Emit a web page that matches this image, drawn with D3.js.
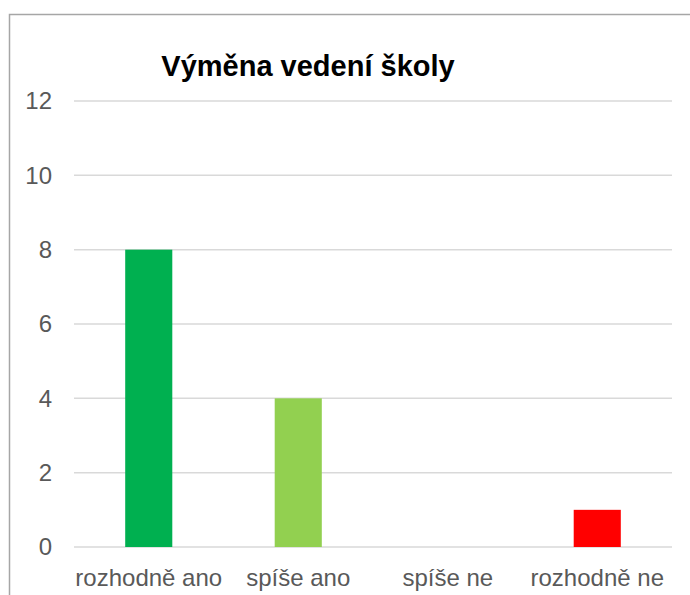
<!DOCTYPE html>
<html lang="cs">
<head>
  <meta charset="UTF-8">
  <title>Výměna vedení školy</title>
  <script src="https://d3js.org/d3.v7.min.js"></script>
  <style>
    body { margin: 0; padding: 0; background: #fff; }
    svg { display: block; font-family: "Liberation Sans", Arial, sans-serif; }
    .tick text { fill: #595959; }
  </style>
</head>
<body>
<svg id="chart" width="690" height="595"></svg>

<script>
  const categories = ["rozhodně ano", "spíše ano", "spíše ne", "rozhodně ne"];
  const values = [8, 4, 0, 1];
  const colors = ["#00B050", "#92D050", "#FFC000", "#FF0000"];
  const yTicks = [0, 2, 4, 6, 8, 10, 12];
  const title = "Výměna vedení školy";

  const svg = d3.select("#chart");
  const margin = { left: 74, right: 18, top: 101, bottom: 48 };
  const width = 690, height = 595;

  // chart frame (only left and top visible in the crop)
  svg.append("path")
    .attr("d", "M9.5,595 V14.5 H690")
    .attr("fill", "none")
    .attr("stroke", "#a6a6a6")
    .attr("stroke-width", 1.5);

  const x = d3.scaleBand()
    .domain(categories)
    .range([margin.left, width - margin.right])
    .padding(0);

  const y = d3.scaleLinear()
    .domain([0, 12])
    .range([height - margin.bottom, margin.top]);

  // gridlines
  svg.append("g")
    .selectAll("line")
    .data(yTicks)
    .enter().append("line")
      .attr("x1", margin.left)
      .attr("x2", width - margin.right)
      .attr("y1", d => y(d))
      .attr("y2", d => y(d))
      .attr("stroke", "#d9d9d9")
      .attr("stroke-width", 1.5);

  // bars
  const barW = x.step() * 0.315;
  svg.append("g")
    .selectAll("rect")
    .data(values)
    .enter().append("rect")
      .attr("x", (d, i) => x(categories[i]) + x.bandwidth() / 2 - barW / 2)
      .attr("width", barW)
      .attr("y", d => y(d))
      .attr("height", d => y(0) - y(d))
      .attr("fill", (d, i) => colors[i]);

  // y axis
  const yAxis = svg.append("g")
    .attr("transform", `translate(${margin.left},0)`)
    .call(d3.axisLeft(y).tickValues(yTicks).tickSize(0).tickPadding(22));
  yAxis.select(".domain").remove();
  yAxis.selectAll("text").attr("font-size", 24).attr("font-family", "Liberation Sans, Arial, sans-serif");

  // x axis
  const xAxis = svg.append("g")
    .attr("transform", `translate(0,${height - margin.bottom})`)
    .call(d3.axisBottom(x).tickSize(0).tickPadding(22));
  xAxis.select(".domain").remove();
  xAxis.selectAll("text").attr("font-size", 24).attr("font-family", "Liberation Sans, Arial, sans-serif");

  // title
  svg.append("text")
    .attr("x", 308)
    .attr("y", 76)
    .attr("text-anchor", "middle")
    .attr("font-size", 29)
    .attr("font-weight", "bold")
    .attr("fill", "#000")
    .text(title);
</script>
</body>
</html>
